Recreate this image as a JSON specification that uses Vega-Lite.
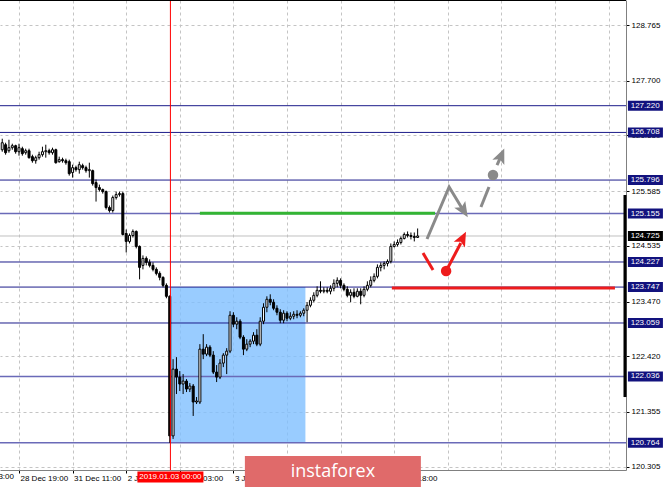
{
  "$schema": "https://vega.github.io/schema/vega-lite/v6.json",
  "width": 626,
  "height": 470,
  "autosize": "none",
  "padding": {"left": 0, "top": 0, "right": 39, "bottom": 17},
  "background": "#ffffff",
  "config": {"view": {"stroke": null}},
  "datasets": {
    "candles": [
      {"t":-5,"o":126.377,"h":126.588,"l":126.339,"c":126.511},
      {"t":-4,"o":126.473,"h":126.511,"l":126.282,"c":126.320},
      {"t":-3,"o":126.358,"h":126.568,"l":126.320,"c":126.416},
      {"t":-2,"o":126.416,"h":126.492,"l":126.377,"c":126.454},
      {"t":-1,"o":126.454,"h":126.473,"l":126.301,"c":126.339},
      {"t":0,"o":126.339,"h":126.492,"l":126.263,"c":126.416},
      {"t":1,"o":126.397,"h":126.435,"l":126.263,"c":126.301},
      {"t":2,"o":126.320,"h":126.397,"l":126.282,"c":126.358},
      {"t":3,"o":126.358,"h":126.397,"l":126.206,"c":126.225},
      {"t":4,"o":126.244,"h":126.282,"l":126.129,"c":126.167},
      {"t":5,"o":126.167,"h":126.263,"l":126.110,"c":126.225},
      {"t":6,"o":126.225,"h":126.339,"l":126.187,"c":126.282},
      {"t":7,"o":126.282,"h":126.435,"l":126.244,"c":126.339},
      {"t":8,"o":126.339,"h":126.473,"l":126.225,"c":126.358},
      {"t":9,"o":126.358,"h":126.397,"l":126.282,"c":126.320},
      {"t":10,"o":126.320,"h":126.416,"l":126.282,"c":126.377},
      {"t":11,"o":126.377,"h":126.397,"l":126.110,"c":126.129},
      {"t":12,"o":126.148,"h":126.244,"l":126.129,"c":126.187},
      {"t":13,"o":126.187,"h":126.225,"l":126.129,"c":126.167},
      {"t":14,"o":126.167,"h":126.206,"l":126.091,"c":126.129},
      {"t":15,"o":126.148,"h":126.187,"l":125.881,"c":125.919},
      {"t":16,"o":125.938,"h":126.091,"l":125.843,"c":126.034},
      {"t":17,"o":126.034,"h":126.072,"l":125.957,"c":125.996},
      {"t":18,"o":125.996,"h":126.148,"l":125.919,"c":126.091},
      {"t":19,"o":126.072,"h":126.110,"l":125.996,"c":126.034},
      {"t":20,"o":126.034,"h":126.072,"l":125.938,"c":125.976},
      {"t":21,"o":125.976,"h":126.129,"l":125.843,"c":125.996},
      {"t":22,"o":125.976,"h":125.996,"l":125.690,"c":125.728},
      {"t":23,"o":125.747,"h":125.805,"l":125.384,"c":125.652},
      {"t":24,"o":125.652,"h":125.709,"l":125.575,"c":125.614},
      {"t":25,"o":125.614,"h":125.633,"l":125.537,"c":125.575},
      {"t":26,"o":125.575,"h":125.595,"l":125.232,"c":125.270},
      {"t":27,"o":125.270,"h":125.308,"l":125.174,"c":125.213},
      {"t":28,"o":125.213,"h":125.499,"l":125.174,"c":125.461},
      {"t":29,"o":125.461,"h":125.575,"l":125.423,"c":125.518},
      {"t":30,"o":125.518,"h":125.575,"l":125.480,"c":125.537},
      {"t":31,"o":125.537,"h":125.575,"l":124.735,"c":124.754},
      {"t":32,"o":124.773,"h":124.850,"l":124.410,"c":124.621},
      {"t":33,"o":124.621,"h":124.773,"l":124.582,"c":124.735},
      {"t":34,"o":124.735,"h":124.850,"l":124.697,"c":124.812},
      {"t":35,"o":124.812,"h":124.831,"l":124.487,"c":124.525},
      {"t":36,"o":124.525,"h":124.544,"l":123.895,"c":124.124},
      {"t":37,"o":124.162,"h":124.353,"l":124.086,"c":124.296},
      {"t":38,"o":124.296,"h":124.334,"l":124.162,"c":124.220},
      {"t":39,"o":124.220,"h":124.277,"l":124.124,"c":124.162},
      {"t":40,"o":124.162,"h":124.220,"l":124.048,"c":124.086},
      {"t":41,"o":124.086,"h":124.124,"l":123.971,"c":124.009},
      {"t":42,"o":124.009,"h":124.048,"l":123.876,"c":123.933},
      {"t":43,"o":123.933,"h":123.952,"l":123.742,"c":123.780},
      {"t":44,"o":123.780,"h":123.818,"l":123.532,"c":123.570},
      {"t":45,"o":123.570,"h":123.589,"l":120.763,"c":120.897},
      {"t":46,"o":120.897,"h":122.367,"l":120.839,"c":122.176},
      {"t":47,"o":122.176,"h":122.405,"l":121.699,"c":122.023},
      {"t":48,"o":122.023,"h":122.138,"l":121.756,"c":121.890},
      {"t":49,"o":121.890,"h":122.081,"l":121.699,"c":121.947},
      {"t":50,"o":121.947,"h":121.985,"l":121.737,"c":121.794},
      {"t":51,"o":121.794,"h":121.909,"l":121.737,"c":121.851},
      {"t":52,"o":121.851,"h":121.890,"l":121.279,"c":121.546},
      {"t":53,"o":121.546,"h":121.641,"l":121.508,"c":121.565},
      {"t":54,"o":121.546,"h":122.654,"l":121.508,"c":122.558},
      {"t":55,"o":122.558,"h":122.845,"l":122.367,"c":122.463},
      {"t":56,"o":122.463,"h":122.654,"l":122.424,"c":122.596},
      {"t":57,"o":122.596,"h":122.634,"l":122.405,"c":122.444},
      {"t":58,"o":122.444,"h":122.520,"l":122.081,"c":122.119},
      {"t":59,"o":122.119,"h":122.253,"l":121.928,"c":122.023},
      {"t":60,"o":122.023,"h":122.367,"l":121.985,"c":122.291},
      {"t":61,"o":122.291,"h":122.482,"l":122.214,"c":122.444},
      {"t":62,"o":122.444,"h":122.577,"l":122.081,"c":122.520},
      {"t":63,"o":122.520,"h":123.284,"l":122.482,"c":123.207},
      {"t":64,"o":123.207,"h":123.265,"l":122.978,"c":123.036},
      {"t":65,"o":123.036,"h":123.169,"l":122.940,"c":123.093},
      {"t":66,"o":123.093,"h":123.131,"l":122.749,"c":122.787},
      {"t":67,"o":122.787,"h":122.825,"l":122.444,"c":122.558},
      {"t":68,"o":122.558,"h":122.749,"l":122.520,"c":122.654},
      {"t":69,"o":122.654,"h":122.749,"l":122.596,"c":122.711},
      {"t":70,"o":122.711,"h":122.883,"l":122.654,"c":122.825},
      {"t":71,"o":122.825,"h":122.940,"l":122.615,"c":122.654},
      {"t":72,"o":122.654,"h":123.169,"l":122.615,"c":123.093},
      {"t":73,"o":123.093,"h":123.437,"l":123.036,"c":123.360},
      {"t":74,"o":123.360,"h":123.570,"l":123.265,"c":123.513},
      {"t":75,"o":123.513,"h":123.608,"l":123.398,"c":123.456},
      {"t":76,"o":123.456,"h":123.513,"l":123.303,"c":123.341},
      {"t":77,"o":123.341,"h":123.398,"l":123.207,"c":123.265},
      {"t":78,"o":123.265,"h":123.322,"l":123.055,"c":123.112},
      {"t":79,"o":123.112,"h":123.303,"l":123.055,"c":123.246},
      {"t":80,"o":123.246,"h":123.284,"l":123.093,"c":123.150},
      {"t":81,"o":123.150,"h":123.265,"l":123.112,"c":123.188},
      {"t":82,"o":123.188,"h":123.284,"l":123.131,"c":123.226},
      {"t":83,"o":123.226,"h":123.303,"l":123.150,"c":123.207},
      {"t":84,"o":123.207,"h":123.284,"l":123.169,"c":123.246},
      {"t":85,"o":123.246,"h":123.341,"l":123.188,"c":123.303},
      {"t":86,"o":123.303,"h":123.456,"l":123.074,"c":123.398},
      {"t":87,"o":123.398,"h":123.551,"l":123.360,"c":123.494},
      {"t":88,"o":123.494,"h":123.647,"l":123.456,"c":123.589},
      {"t":89,"o":123.589,"h":123.761,"l":123.551,"c":123.685},
      {"t":90,"o":123.685,"h":123.857,"l":123.628,"c":123.666},
      {"t":91,"o":123.666,"h":123.742,"l":123.628,"c":123.685},
      {"t":92,"o":123.685,"h":123.742,"l":123.628,"c":123.666},
      {"t":93,"o":123.666,"h":123.780,"l":123.608,"c":123.723},
      {"t":94,"o":123.723,"h":123.895,"l":123.666,"c":123.818},
      {"t":95,"o":123.818,"h":123.933,"l":123.742,"c":123.876},
      {"t":96,"o":123.876,"h":123.914,"l":123.723,"c":123.780},
      {"t":97,"o":123.780,"h":123.818,"l":123.666,"c":123.704},
      {"t":98,"o":123.704,"h":123.761,"l":123.551,"c":123.589},
      {"t":99,"o":123.589,"h":123.704,"l":123.456,"c":123.647},
      {"t":100,"o":123.647,"h":123.723,"l":123.532,"c":123.570},
      {"t":101,"o":123.570,"h":123.723,"l":123.551,"c":123.666},
      {"t":102,"o":123.666,"h":123.723,"l":123.417,"c":123.589},
      {"t":103,"o":123.589,"h":123.761,"l":123.551,"c":123.704},
      {"t":104,"o":123.704,"h":123.857,"l":123.666,"c":123.780},
      {"t":105,"o":123.780,"h":123.952,"l":123.742,"c":123.876},
      {"t":106,"o":123.876,"h":124.009,"l":123.838,"c":123.952},
      {"t":107,"o":123.952,"h":124.181,"l":123.914,"c":124.124},
      {"t":108,"o":124.124,"h":124.220,"l":124.048,"c":124.162},
      {"t":109,"o":124.162,"h":124.239,"l":124.086,"c":124.200},
      {"t":110,"o":124.200,"h":124.277,"l":124.143,"c":124.239},
      {"t":111,"o":124.239,"h":124.582,"l":124.200,"c":124.525},
      {"t":112,"o":124.525,"h":124.621,"l":124.506,"c":124.563},
      {"t":113,"o":124.563,"h":124.659,"l":124.525,"c":124.601},
      {"t":114,"o":124.601,"h":124.716,"l":124.563,"c":124.678},
      {"t":115,"o":124.678,"h":124.792,"l":124.659,"c":124.754},
      {"t":116,"o":124.754,"h":124.812,"l":124.697,"c":124.735},
      {"t":117,"o":124.735,"h":124.792,"l":124.659,"c":124.716},
      {"t":118,"o":124.716,"h":124.792,"l":124.621,"c":124.697},
      {"t":119,"o":124.697,"h":124.869,"l":124.697,"c":124.725}
    ],
    "levels": [{"p":127.22},{"p":126.708},{"p":125.796},{"p":124.227},{"p":123.747},{"p":123.059}],
    "levels2": [{"p":125.155},{"p":122.036},{"p":120.764}],
    "boxes": [{"p":127.22},{"p":126.708},{"p":125.796},{"p":125.155},{"p":124.227},{"p":123.747},{"p":123.059},{"p":122.036},{"p":120.764}],
    "grayLines": [
      {"seg":"a","ord":0,"t":121.8,"p":124.667},
      {"seg":"a","ord":1,"t":128.4,"p":125.663},
      {"seg":"a","ord":2,"t":132.2,"p":125.261},
      {"seg":"b","ord":0,"t":137.9,"p":125.280},
      {"seg":"b","ord":1,"t":140.3,"p":125.663},
      {"seg":"c","ord":0,"t":142.7,"p":126.084},
      {"seg":"c","ord":1,"t":143.85,"p":126.249}
    ],
    "redLines": [
      {"seg":"d","ord":0,"t":120.6,"p":124.399},
      {"seg":"d","ord":1,"t":123.6,"p":124.074},
      {"seg":"e","ord":0,"t":127.5,"p":124.054},
      {"seg":"e","ord":1,"t":131.9,"p":124.591}
    ]
  },
  "layer": [
    {
      "data": {"values": [{"t1":45.3,"t2":85.5,"p1":123.747,"p2":120.764}]},
      "mark": {"type": "rect", "fill": "#80bfff", "opacity": 0.8},
      "encoding": {
        "x": {"field": "t1", "type": "quantitative", "title": null,
          "scale": {"domain": [-5.67, 181.2], "nice": false, "zero": false, "padding": 0},
          "axis": {
            "values": [0,8,16,24,32,40,48,56,64,72,80,88,96,104,112,120,128,136,144,152,160,168,176],
            "labelExpr": "datum.value==0?'28 Dec 19:00':datum.value==16?'31 Dec 11:00':datum.value==32?'2 Jan 11:00':datum.value==48?'3 Jan 03:00':datum.value==64?'3 Jan 19:00':datum.value==80?'4 Jan 11:00':datum.value==96?'7 Jan 02:00':datum.value==112?'7 Jan 18:00':''",
            "labelAlign": "left", "labelOffset": 1, "labelPadding": 1,
            "labelFont": "Liberation Sans", "labelFontSize": 8, "labelColor": "#000000",
            "labelOverlap": false, "labelBound": false, "labelFlush": false,
            "tickSize": 3, "tickColor": "#000000",
            "tickOpacity": {"condition": {"test": "datum.value % 16 === 0 && datum.value <= 112", "value": 1}, "value": 0},
            "domainColor": "#808080",
            "grid": true, "gridColor": "#c4c4c4", "gridDash": [3, 3], "gridWidth": 1
          }
        },
        "x2": {"field": "t2"},
        "y": {"field": "p1", "type": "quantitative", "title": null,
          "scale": {"domain": [120.244, 129.244], "nice": false, "zero": false, "padding": 0},
          "axis": {
            "orient": "right",
            "values": [128.765,128.24,127.7,127.175,126.65,126.125,125.585,125.06,124.535,124.01,123.47,122.945,122.42,121.88,121.355,120.83,120.305],
            "format": ".3f",
            "labelFont": "Liberation Sans", "labelFontSize": 8, "labelColor": "#000000",
            "labelPadding": 2, "labelOverlap": false, "labelBound": false, "labelFlush": false,
            "tickSize": 3, "tickColor": "#000000",
            "domainColor": "#808080",
            "grid": true, "gridColor": "#c4c4c4", "gridDash": [3, 3], "gridWidth": 1
          }
        },
        "y2": {"field": "p2"}
      }
    },
    {
      "data": {"values": [{"t": -15.7, "p": 120.109, "label": "28 Dec 03:00"}]},
      "mark": {"type": "text", "align": "left", "baseline": "middle", "font": "Liberation Sans", "fontSize": 8, "color": "#000000"},
      "encoding": {"x": {"field": "t", "type": "quantitative", "title": null}, "y": {"field": "p", "type": "quantitative", "title": null}, "text": {"field": "label"}}
    },
    {
      "data": {"values": [{"p": 124.725}]},
      "mark": {"type": "rule", "color": "#c0c0c0", "strokeWidth": 1},
      "encoding": {"y": {"field": "p", "type": "quantitative", "title": null}}
    },
    {
      "data": {"name": "levels"},
      "mark": {"type": "rule", "color": "#1c1c8a", "strokeWidth": 1},
      "encoding": {"y": {"field": "p", "type": "quantitative", "title": null}}
    },
    {
      "data": {"name": "levels2"},
      "mark": {"type": "rule", "color": "#6a6ab8", "strokeWidth": 1.5},
      "encoding": {"y": {"field": "p", "type": "quantitative", "title": null}}
    },
    {
      "data": {"values": [{"t1": 54.0, "t2": 124.2, "p": 125.16}]},
      "mark": {"type": "rule", "color": "#33b533", "strokeWidth": 3},
      "encoding": {
        "x": {"field": "t1", "type": "quantitative", "title": null},
        "x2": {"field": "t2"},
        "y": {"field": "p", "type": "quantitative", "title": null}
      }
    },
    {
      "data": {"values": [{"t1": 111.3, "t2": 177.9, "p": 123.73}]},
      "mark": {"type": "rule", "color": "#ee1c1c", "strokeWidth": 3},
      "encoding": {
        "x": {"field": "t1", "type": "quantitative", "title": null},
        "x2": {"field": "t2"},
        "y": {"field": "p", "type": "quantitative", "title": null}
      }
    },
    {
      "data": {"name": "candles"},
      "mark": {"type": "rule", "color": "#000000", "strokeWidth": 1},
      "encoding": {
        "x": {"field": "t", "type": "quantitative", "title": null},
        "y": {"field": "l", "type": "quantitative", "title": null},
        "y2": {"field": "h"}
      }
    },
    {
      "data": {"name": "candles"},
      "mark": {"type": "bar", "size": 2, "stroke": "#000000", "strokeWidth": 1},
      "encoding": {
        "x": {"field": "t", "type": "quantitative", "title": null},
        "y": {"field": "o", "type": "quantitative", "title": null},
        "y2": {"field": "c"},
        "fill": {"condition": {"test": "datum.c >= datum.o", "value": "#ffffff"}, "value": "#000000"}
      }
    },
    {
      "data": {"values": [{"t": 45.2}]},
      "mark": {"type": "rule", "color": "#ff0000", "strokeWidth": 1},
      "encoding": {"x": {"field": "t", "type": "quantitative", "title": null}}
    },
    {
      "data": {"name": "grayLines"},
      "mark": {"type": "line", "color": "#8a8a8a", "strokeWidth": 3},
      "encoding": {
        "x": {"field": "t", "type": "quantitative", "title": null},
        "y": {"field": "p", "type": "quantitative", "title": null},
        "detail": {"field": "seg"},
        "order": {"field": "ord"}
      }
    },
    {
      "data": {"name": "redLines"},
      "mark": {"type": "line", "color": "#ee1c1c", "strokeWidth": 3},
      "encoding": {
        "x": {"field": "t", "type": "quantitative", "title": null},
        "y": {"field": "p", "type": "quantitative", "title": null},
        "detail": {"field": "seg"},
        "order": {"field": "ord"}
      }
    },
    {
      "data": {"values": [{"t": 141.5, "p": 125.893}]},
      "mark": {"type": "point", "shape": "circle", "filled": true, "size": 110, "color": "#8a8a8a", "opacity": 1},
      "encoding": {"x": {"field": "t", "type": "quantitative", "title": null}, "y": {"field": "p", "type": "quantitative", "title": null}}
    },
    {
      "data": {"values": [{"t": 127.5, "p": 124.054}]},
      "mark": {"type": "point", "shape": "circle", "filled": true, "size": 110, "color": "#ee1c1c", "opacity": 1},
      "encoding": {"x": {"field": "t", "type": "quantitative", "title": null}, "y": {"field": "p", "type": "quantitative", "title": null}}
    },
    {
      "data": {"values": [{"t": 132.6, "p": 125.224}]},
      "mark": {"type": "point", "shape": "M0,-1L0.75,0.75L0,0.35L-0.75,0.75Z", "filled": true, "size": 300, "angle": 148, "color": "#8a8a8a", "opacity": 1},
      "encoding": {"x": {"field": "t", "type": "quantitative", "title": null}, "y": {"field": "p", "type": "quantitative", "title": null}}
    },
    {
      "data": {"values": [{"t": 143.85, "p": 126.249}]},
      "mark": {"type": "point", "shape": "M0,-1L0.75,0.75L0,0.35L-0.75,0.75Z", "filled": true, "size": 300, "angle": 23, "color": "#8a8a8a", "opacity": 1},
      "encoding": {"x": {"field": "t", "type": "quantitative", "title": null}, "y": {"field": "p", "type": "quantitative", "title": null}}
    },
    {
      "data": {"values": [{"t": 132.3, "p": 124.665}]},
      "mark": {"type": "point", "shape": "M0,-1L0.75,0.75L0,0.35L-0.75,0.75Z", "filled": true, "size": 280, "angle": 27, "color": "#ee1c1c", "opacity": 1},
      "encoding": {"x": {"field": "t", "type": "quantitative", "title": null}, "y": {"field": "p", "type": "quantitative", "title": null}}
    },
    {
      "data": {"values": [{"p1": 125.51, "p2": 121.641}]},
      "mark": {"type": "rule", "color": "#000000", "strokeWidth": 3},
      "encoding": {
        "x": {"datum": 180.9, "type": "quantitative", "title": null},
        "y": {"field": "p1", "type": "quantitative", "title": null},
        "y2": {"field": "p2"}
      }
    },
    {
      "data": {"values": [{"p": 129.244}]},
      "mark": {"type": "rule", "color": "#000000", "strokeWidth": 2},
      "encoding": {"y": {"field": "p", "type": "quantitative", "title": null}}
    },
    {
      "data": {"name": "boxes"},
      "mark": {"type": "point", "shape": "M-1,-0.2857H1V0.2857H-1Z", "filled": true, "size": 1225, "color": "#12127e", "opacity": 1},
      "encoding": {"x": {"datum": 187.0, "type": "quantitative", "title": null}, "y": {"field": "p", "type": "quantitative", "title": null}}
    },
    {
      "data": {"name": "boxes"},
      "mark": {"type": "text", "align": "left", "baseline": "middle", "font": "Liberation Sans", "fontSize": 8, "color": "#ffffff"},
      "encoding": {"x": {"datum": 182.6, "type": "quantitative", "title": null}, "y": {"field": "p", "type": "quantitative", "title": null}, "text": {"field": "p", "type": "quantitative", "format": ".3f"}}
    },
    {
      "data": {"values": [{"p": 124.725}]},
      "mark": {"type": "point", "shape": "M-1,-0.2857H1V0.2857H-1Z", "filled": true, "size": 1225, "color": "#000000", "opacity": 1},
      "encoding": {"x": {"datum": 187.0, "type": "quantitative", "title": null}, "y": {"field": "p", "type": "quantitative", "title": null}}
    },
    {
      "data": {"values": [{"p": 124.725}]},
      "mark": {"type": "text", "align": "left", "baseline": "middle", "font": "Liberation Sans", "fontSize": 8, "color": "#ffffff"},
      "encoding": {"x": {"datum": 182.6, "type": "quantitative", "title": null}, "y": {"field": "p", "type": "quantitative", "title": null}, "text": {"field": "p", "type": "quantitative", "format": ".3f"}}
    },
    {
      "data": {"values": [{"t": 45.2, "p": 120.109, "label": "2019.01.03 00:00"}]},
      "mark": {"type": "point", "shape": "M-1,-0.1667H1V0.1667H-1Z", "filled": true, "size": 4356, "color": "#ff0000", "opacity": 1},
      "encoding": {"x": {"field": "t", "type": "quantitative", "title": null}, "y": {"field": "p", "type": "quantitative", "title": null}}
    },
    {
      "data": {"values": [{"t": 45.2, "p": 120.109, "label": "2019.01.03 00:00"}]},
      "mark": {"type": "text", "align": "center", "baseline": "middle", "font": "Liberation Sans", "fontSize": 8, "color": "#ffffff"},
      "encoding": {"x": {"field": "t", "type": "quantitative", "title": null}, "y": {"field": "p", "type": "quantitative", "title": null}, "text": {"field": "label"}}
    },
    {
      "data": {"values": [{"t": 93.7, "p": 120.215, "label": "instaforex"}]},
      "mark": {"type": "point", "shape": "M-1,-0.176H1V0.176H-1Z", "filled": true, "size": 30976, "color": "#e06a6a", "opacity": 1},
      "encoding": {"x": {"field": "t", "type": "quantitative", "title": null}, "y": {"field": "p", "type": "quantitative", "title": null}}
    },
    {
      "data": {"values": [{"t": 93.7, "p": 120.215, "label": "instaforex"}]},
      "mark": {"type": "text", "align": "center", "baseline": "middle", "font": "Open Sans", "fontSize": 18, "color": "#ffffff"},
      "encoding": {"x": {"field": "t", "type": "quantitative", "title": null}, "y": {"field": "p", "type": "quantitative", "title": null}, "text": {"field": "label"}}
    }
  ]
}
